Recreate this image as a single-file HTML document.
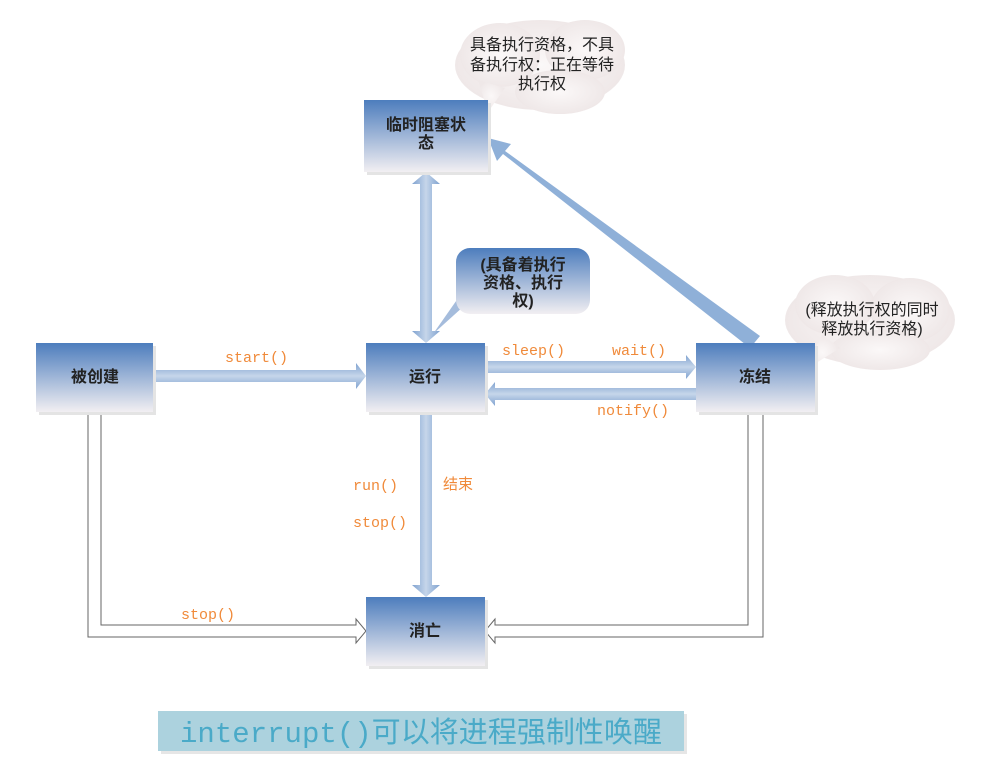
<!DOCTYPE html>
<html><head><meta charset="utf-8"><style>
body{margin:0;background:#fff;}
svg{display:block;font-family:"Liberation Sans","Noto Sans CJK SC",sans-serif;}
.lbl{font-family:"Liberation Mono","Noto Sans CJK SC",monospace;fill:#f08a3a;font-size:15px;}
.bx{font-size:16px;font-weight:bold;fill:#222;text-anchor:middle;}
.cl{font-size:16px;fill:#222;text-anchor:middle;}
</style></head><body>
<svg width="988" height="783" viewBox="0 0 988 783">
<defs>
<linearGradient id="g" x1="0" y1="0" x2="0" y2="1"><stop offset="0" stop-color="#4d7dbd"/><stop offset="1" stop-color="#f2eff2"/></linearGradient>
<linearGradient id="h" x1="0" y1="0" x2="0" y2="1"><stop offset="0" stop-color="#7fa2d0"/><stop offset="0.5" stop-color="#c6d6ea"/><stop offset="1" stop-color="#7fa2d0"/></linearGradient>
<linearGradient id="v" x1="0" y1="0" x2="1" y2="0"><stop offset="0" stop-color="#7fa2d0"/><stop offset="0.5" stop-color="#c6d6ea"/><stop offset="1" stop-color="#7fa2d0"/></linearGradient>
<radialGradient id="c"><stop offset="0" stop-color="#fbf8f8"/><stop offset="1" stop-color="#efe8e8"/></radialGradient>
</defs>
<g fill="none" stroke="#666" stroke-width="1">
<path d="M88 412 V637 H356 V643 L366 631 L356 619 V625 H101 V412"/>
<path d="M748 412 V625 H495 V619 L485 631 L495 643 V637 H763 V412"/>
</g>
<path d="M153 370 H356 V363 L366 376 L356 389 V382 H153 Z" fill="url(#h)"/>
<path d="M485 361 H686 V355 L696 367 L686 379 V373 H485 Z" fill="url(#h)"/>
<path d="M696 388 H495 V382 L485 394 L495 406 V400 H696 Z" fill="url(#h)"/>
<path d="M420 184 H412 L426 172 L440 184 H432 V331 H440 L426 343 L412 331 H420 Z" fill="url(#v)"/>
<path d="M420 412 H432 V585 H440 L426 597 L412 585 H420 Z" fill="url(#v)"/>
<path d="M760 336 L750 348 L503 154 L497 161 L488 138 L511 144 L505 151 Z" fill="#8fb0d8"/>
<g fill="url(#c)">
<ellipse cx="540" cy="65" rx="85" ry="45"/><ellipse cx="500" cy="55" rx="40" ry="32"/><ellipse cx="585" cy="50" rx="40" ry="30"/><ellipse cx="560" cy="92" rx="45" ry="22"/>
<path d="M478 80 L488 112 L505 88 Z"/>
<ellipse cx="870" cy="320" rx="85" ry="45"/><ellipse cx="835" cy="305" rx="40" ry="30"/><ellipse cx="910" cy="310" rx="40" ry="32"/><ellipse cx="880" cy="350" rx="50" ry="20"/>
<path d="M822 335 L805 370 L840 348 Z"/>
</g>
<text class="cl" x="542" y="50">具备执行资格，不具</text>
<text class="cl" x="542" y="70">备执行权：正在等待</text>
<text class="cl" x="542" y="89">执行权</text>
<text class="cl" x="872" y="315">(释放执行权的同时</text>
<text class="cl" x="872" y="334">释放执行资格)</text>
<path d="M468 284 L433 334 L464 306 Z" fill="#a5bcdc"/>
<rect x="456" y="248" width="134" height="66" rx="14" fill="url(#g)"/>
<text class="bx" x="523" y="270">(具备着执行</text>
<text class="bx" x="523" y="288">资格、执行</text>
<text class="bx" x="523" y="306">权)</text>
<g fill="#e4e4e4"><rect x="39" y="346" width="117" height="69"/><rect x="369" y="346" width="119" height="69"/><rect x="367" y="103" width="124" height="72"/><rect x="699" y="346" width="119" height="69"/><rect x="369" y="600" width="119" height="69"/></g>
<rect x="36" y="343" width="117" height="69" fill="url(#g)"/>
<rect x="366" y="343" width="119" height="69" fill="url(#g)"/>
<rect x="364" y="100" width="124" height="72" fill="url(#g)"/>
<rect x="696" y="343" width="119" height="69" fill="url(#g)"/>
<rect x="366" y="597" width="119" height="69" fill="url(#g)"/>
<text class="bx" x="95" y="382">被创建</text>
<text class="bx" x="425" y="382">运行</text>
<text class="bx" x="426" y="130">临时阻塞状</text>
<text class="bx" x="426" y="148">态</text>
<text class="bx" x="755" y="382">冻结</text>
<text class="bx" x="425" y="636">消亡</text>
<text class="lbl" x="225" y="362">start()</text>
<text class="lbl" x="502" y="355">sleep()</text>
<text class="lbl" x="612" y="355">wait()</text>
<text class="lbl" x="597" y="415">notify()</text>
<text class="lbl" x="353" y="490">run()</text>
<text class="lbl" x="353" y="527">stop()</text>
<text class="lbl" x="443" y="489">结束</text>
<text class="lbl" x="181" y="619">stop()</text>
<rect x="161" y="714" width="526" height="40" fill="#e6e6e6"/>
<rect x="158" y="711" width="526" height="40" fill="#acd2de"/>
<text x="421" y="742" text-anchor="middle" textLength="482" style="font-family:'Liberation Mono','Noto Sans CJK SC',monospace;font-size:29px;fill:#4aaac8;">interrupt()可以将进程强制性唤醒</text>
</svg>
</body></html>
